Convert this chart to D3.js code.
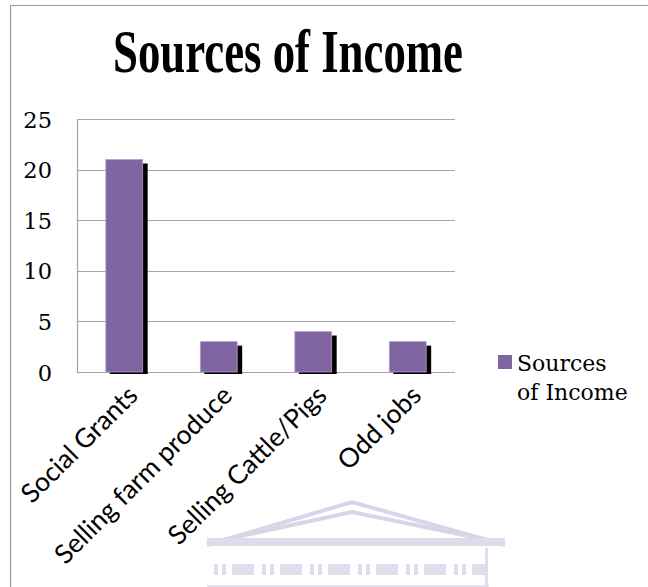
<!DOCTYPE html>
<html><head><meta charset="utf-8">
<script src="https://cdn.jsdelivr.net/npm/d3@7"></script>
<style>html,body{margin:0;padding:0;background:#fff;}svg{display:block;}</style>
</head><body>
<svg id="c" width="648" height="587"></svg>
<script>
const categories = ["Social Grants", "Selling farm produce", "Selling Cattle/Pigs", "Odd jobs"];
const values = [21, 3, 4, 3];
const seriesName = "Sources of Income";
const yTicks = [0, 5, 10, 15, 20, 25];
const title = "Sources of Income";

const svg = d3.select("#c");
const W = 648, H = 587;
const m = {left: 77, right: 455, top: 119, bottom: 372};

// frame (chart area border, cropped on right/bottom)
svg.append("path").attr("d", `M10.5,${H} L10.5,5.5 L${W},5.5`)
  .attr("fill", "none").attr("stroke", "#9a9a9a").attr("stroke-width", 1.2);

// faint watermark (decorative)
const wm = svg.append("g").attr("fill", "none").attr("stroke", "#d6d6e8").attr("stroke-width", 4);
wm.append("path").attr("d", "M207,545 L352,502 L505,545");
wm.append("path").attr("d", "M222,540 L352,512 L488,540");
wm.append("rect").attr("x", 207).attr("y", 538).attr("width", 298).attr("height", 8).attr("fill", "#dcdcec").attr("stroke", "none");
const wmc = svg.append("g").attr("fill", "#dedeed");
[[214,4],[222,4],[232,22],[262,4],[270,4],[280,22],[310,4],[318,4],[328,22],[358,4],[366,4],[376,22],[406,4],[414,4],[424,22],[454,4],[462,4],[472,14]].forEach(([x,w]) => {
  wmc.append("rect").attr("x", x).attr("y", 564).attr("width", w).attr("height", 11);
});
svg.append("rect").attr("x", 207).attr("y", 585).attr("width", 282).attr("height", 3).attr("fill", "#e2e2ef");
svg.append("rect").attr("x", 485).attr("y", 548).attr("width", 3).attr("height", 40).attr("fill", "#dedeed");

const x = d3.scaleBand().domain(categories).range([m.left, m.right]).paddingInner(0.61).paddingOuter(0.305);
const y = d3.scaleLinear().domain([0, 25]).range([m.bottom, m.top]);

// gridlines
svg.append("g").selectAll("line").data(yTicks).join("line")
  .attr("x1", m.left).attr("x2", m.right)
  .attr("y1", d => Math.round(y(d)) + 0.5).attr("y2", d => Math.round(y(d)) + 0.5)
  .attr("stroke", "#a6a6a6").attr("stroke-width", 1.2);
svg.append("line").attr("x1", m.left + 0.5).attr("x2", m.left + 0.5)
  .attr("y1", m.top).attr("y2", m.bottom + 1).attr("stroke", "#a6a6a6").attr("stroke-width", 1.2);

// y tick labels
const yAxis = d3.axisLeft(y).tickValues(yTicks).tickSize(0).tickPadding(0);
const ya = svg.append("g").attr("transform", `translate(52,0)`).call(yAxis);
ya.select(".domain").remove();
ya.selectAll("text").attr("font-family", "DejaVu Serif").attr("font-size", 22.5).attr("fill", "#000").attr("dy", "0.36em");

// shadows
svg.append("g").selectAll("rect").data(values).join("rect")
  .attr("x", (d, i) => x(categories[i]) + 4)
  .attr("y", d => y(d) + 4)
  .attr("width", x.bandwidth() + 1)
  .attr("height", d => y(0) - y(d) - 2)
  .attr("fill", "#000");

// bars
svg.append("g").selectAll("rect").data(values).join("rect")
  .attr("x", (d, i) => x(categories[i]))
  .attr("y", d => y(d))
  .attr("width", x.bandwidth())
  .attr("height", d => y(0) - y(d))
  .attr("fill", "#8064a2").attr("stroke", "#b3a2cc").attr("stroke-width", 0.8);

// x labels
const xAxis = d3.axisBottom(x).tickSize(0).tickPadding(0);
const xa = svg.append("g").attr("transform", `translate(1,${m.bottom + 11})`).call(xAxis);
xa.select(".domain").remove();
xa.selectAll("text").attr("font-family", "Lato").attr("font-size", 26.5).attr("fill", "#000")
  .attr("text-anchor", "end").attr("transform", "rotate(-45)").attr("dy", "0.75em").attr("y", 0).attr("x", 0);

// title
svg.append("text").attr("x", 288).attr("y", 72).attr("text-anchor", "middle")
  .attr("font-family", "Liberation Serif").attr("font-weight", "bold").attr("font-size", 62)
  .attr("textLength", 350).attr("lengthAdjust", "spacingAndGlyphs")
  .text(title);

// legend
const lg = svg.append("g");
lg.append("rect").attr("x", 498).attr("y", 355).attr("width", 14).attr("height", 14).attr("fill", "#8064a2");
const words = seriesName.split(" ");
const lt = lg.append("text").attr("font-family", "DejaVu Serif").attr("font-size", 22).attr("fill", "#000");
lt.append("tspan").attr("x", 517).attr("y", 371).text(words[0]);
lt.append("tspan").attr("x", 517).attr("y", 400).text(words.slice(1).join(" "));
</script>
</body></html>
